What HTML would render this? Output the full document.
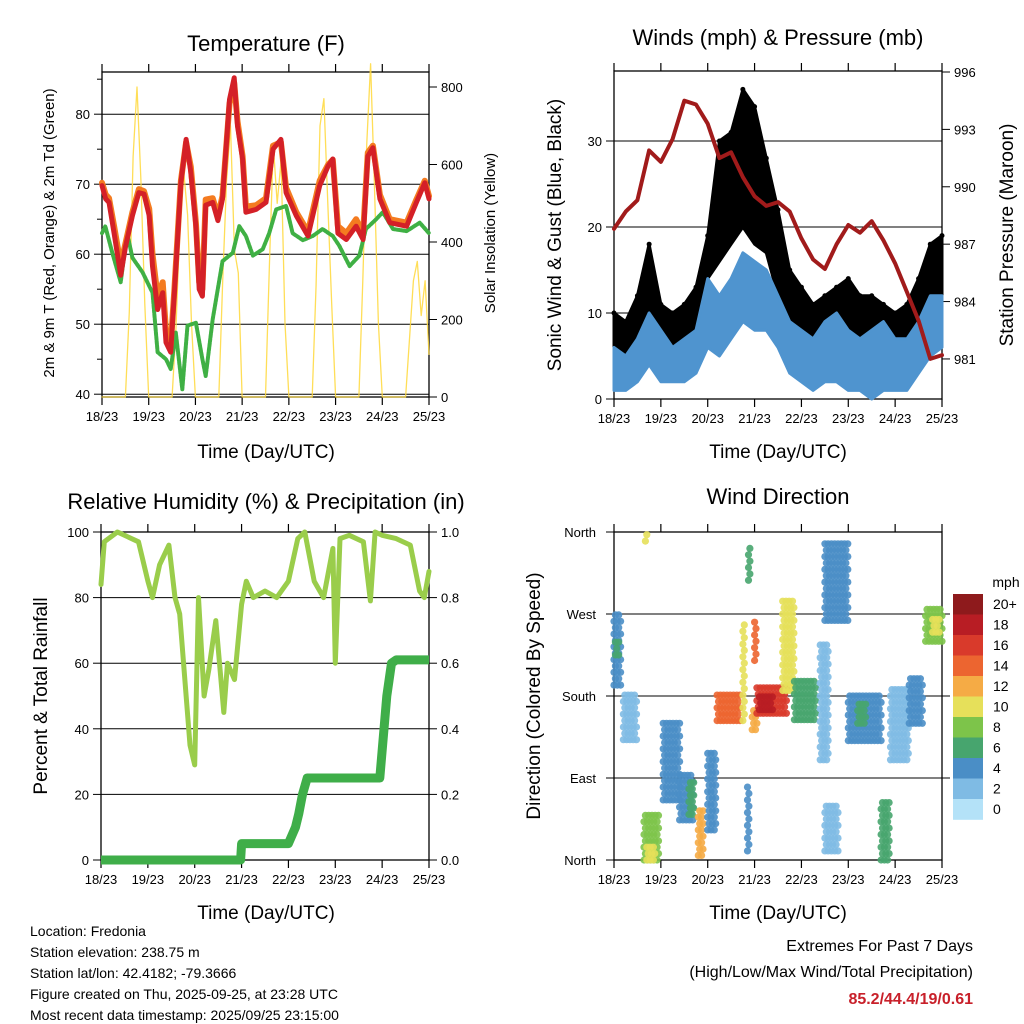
<!DOCTYPE html>
<html><head><meta charset="utf-8"><style>
html,body{margin:0;padding:0;background:#fff;}
svg{display:block;font-family:"Liberation Sans",sans-serif;}
</style></head><body>
<svg id="chart" width="1024" height="1024" viewBox="0 0 1024 1024" xmlns="http://www.w3.org/2000/svg">
<rect x="0" y="0" width="1024" height="1024" fill="#fff"/>
<g font-size="22" text-anchor="middle" fill="#000">
<text x="266" y="51">Temperature (F)</text>
<text x="778" y="45">Winds (mph) &amp; Pressure (mb)</text>
<text x="266" y="509">Relative Humidity (%) &amp; Precipitation (in)</text>
<text x="778" y="504">Wind Direction</text>
</g>
<g font-size="19" text-anchor="middle">
<text x="266" y="458">Time (Day/UTC)</text>
<text x="778" y="458">Time (Day/UTC)</text>
<text x="266" y="919">Time (Day/UTC)</text>
<text x="778" y="919">Time (Day/UTC)</text>
<text transform="translate(561,235) rotate(-90)">Sonic Wind &amp; Gust (Blue, Black)</text>
<text transform="translate(1013,235) rotate(-90)">Station Pressure (Maroon)</text>
<text transform="translate(47,696) rotate(-90)">Percent &amp; Total Rainfall</text>
<text transform="translate(540,696) rotate(-90)">Direction (Colored By Speed)</text>
</g>
<g font-size="15" text-anchor="middle">
<text transform="translate(54,233) rotate(-90)">2m &amp; 9m T (Red, Orange) &amp; 2m Td (Green)</text>
<text transform="translate(495,233) rotate(-90)">Solar Insolation (Yellow)</text>
</g>
<g font-size="14">
<text x="30" y="936">Location: Fredonia</text>
<text x="30" y="957">Station elevation: 238.75 m</text>
<text x="30" y="978">Station lat/lon: 42.4182; -79.3666</text>
<text x="30" y="999">Figure created on Thu, 2025-09-25, at 23:28 UTC</text>
<text x="30" y="1020">Most recent data timestamp: 2025/09/25 23:15:00</text>
</g>
<g font-size="16" text-anchor="end">
<text x="973" y="951">Extremes For Past 7 Days</text>
<text x="973" y="977">(High/Low/Max Wind/Total Precipitation)</text>
<text x="973" y="1004" fill="#c8202a" font-weight="bold">85.2/44.4/19/0.61</text>
</g>
</svg>
<script>
// ---------- data ----------
const dayLabels=['18/23','19/23','20/23','21/23','22/23','23/23','24/23','25/23'];
const tempTicks=[40,50,60,70,80];
const solarTicks=[0,200,400,600,800];
const windTicks=[0,10,20,30];
const pressTicks=[981,984,987,990,993,996];
const rhTicks=[0,20,40,60,80,100];
const rainTicks=['0.0','0.2','0.4','0.6','0.8','1.0'];
const dirTicks=['North','East','South','West','North'];
const speedLabels=['20+','18','16','14','12','10','8','6','4','2','0'];

const tempTime=[0,0.08,0.15,0.26,0.4,0.5,0.65,0.79,0.9,1.01,1.08,1.19,1.3,1.37,1.47,1.55,1.69,1.8,1.9,2.01,2.08,2.15,2.22,2.37,2.48,2.58,2.73,2.83,2.9,3.01,3.08,3.3,3.51,3.66,3.83,3.94,4.16,4.41,4.66,4.84,4.94,5.05,5.23,5.44,5.59,5.69,5.8,5.95,6.16,6.52,6.73,6.91,7.0];
const temp2m=[69.8,67.9,67.4,63,57,61,65.5,68.8,68.6,65.5,58.3,52.1,54.5,47.4,46,54.5,70.2,76.4,71.7,64,55,54,67,67.4,64.8,67.9,82.1,85.2,78.3,73.6,66,66.4,67.4,75,76.4,68.8,65.5,62.6,69.8,72.6,73.6,63,62.1,64,62.1,74,75.2,67.9,64.5,64,67.4,70.2,67.9];
const temp9m=[70.2,68.5,68,64,58.5,61.5,66,69.3,69,66.5,60,54,56,49,47,55,70.5,76,72.5,64.5,56,55,67.8,68,65.5,68.3,81.5,84.5,79,74,66.8,67,68,75.5,76,69.5,66,63.2,70.5,72.8,73.5,64,63,65,63,74.5,75.5,68.5,65,64.5,67.8,70.5,68.3];
const dewTime=[0,0.07,0.22,0.4,0.54,0.65,0.87,1.08,1.19,1.37,1.47,1.58,1.72,1.83,2.01,2.15,2.22,2.37,2.58,2.8,2.94,3.08,3.23,3.44,3.58,3.73,3.94,4.08,4.3,4.51,4.72,4.94,5.08,5.3,5.51,5.65,5.87,6.01,6.23,6.52,6.8,7.0];
const dewPoint=[63,64,60.2,56,63,59.5,57.4,54.5,46,45,43.6,48.8,40.7,49.8,50.2,45,42.6,50.7,59,60.2,64,62.6,59.8,60.7,63,66.4,66.9,63,62,62.6,63.6,62.6,61.2,58.3,59.8,63.6,65,66,63.6,63.3,64.5,63];
// 2-hourly solar insolation, index i = i/12 days after 18/23
const solar=[0,
 0,0,0,0,0,0,220,620,800,560,240,0,
 0,0,0,0,0,0,180,450,580,470,190,0,
 0,0,0,0,0,0,300,560,700,380,320,0,
 0,0,0,0,0,0,340,650,500,610,190,0,
 0,0,0,0,0,0,290,700,770,500,240,0,
 0,0,0,0,0,0,300,650,860,540,190,0,
 0,0,0,0,0,0,150,300,350,210,300,110];

const pressure=[987.8,988.7,989.3,991.9,991.3,992.5,994.5,994.3,993.3,991.5,991.8,990.5,989.5,989.0,989.2,988.7,987.3,986.2,985.7,987.0,988.0,987.6,988.2,987.2,986.0,984.5,983.0,981.0,981.2];
const windLo=[1,1,2,4,2,2,2,3,6,5,7,9,8,8,6,3,2,1,2,2,1,1,0,1,1,1,3,5,6];
const windHi=[6,5,7,10,8,6,7,8,14,12,14,17,16,15,12,9,8,7,9,10,8,7,8,9,7,7,9,12,12];
const gustLo=[3,3,4,8,5,4,4,5,14,16,18,20,18,17,12,7,5,4,4,5,3,3,2,3,3,3,6,9,10];
const gustHi=[10,9,12,18,11,10,11,13,19,30,31,36,34,28,22,15,13,11,12,13,14,12,12,11,10,11,14,18,19];

const rhTime=[0,0.07,0.35,0.8,1.0,1.1,1.25,1.45,1.58,1.68,1.9,2.0,2.08,2.2,2.3,2.45,2.62,2.7,2.85,3.0,3.1,3.25,3.5,3.75,4.0,4.2,4.35,4.55,4.75,4.95,5.0,5.1,5.3,5.6,5.75,5.85,6.0,6.3,6.6,6.8,6.9,7.0];
const rhValue=[84,97,100,97,85,80,90,96,80,75,35,29,80,50,58,73,45,60,55,78,85,80,82,80,85,98,100,85,80,95,60,98,99,97,79,100,99,98,96,82,80,88];
const rainTime=[0,2.98,3.0,4.0,4.15,4.22,4.3,4.4,5.95,6.1,6.2,6.3,7.0];
const rainValue=[0,0,0.05,0.05,0.10,0.14,0.20,0.25,0.25,0.50,0.60,0.61,0.61];

const streakT0=[0,0.03,0.2,0.64,0.7,1.05,1.4,1.6,1.8,2.0,2.2,2.75,2.85,3.0,2.95,3.05,3.1,3.6,3.85,4.5,4.4,4.5,5.0,5.2,5.7,5.9,6.3,6.65,6.8,2.87,0.67];
const streakT1=[0.15,0.1,0.5,0.98,0.9,1.4,1.7,1.7,1.9,2.2,2.7,2.8,2.9,3.05,3.05,3.7,3.4,3.85,4.3,5.0,4.6,4.8,5.7,5.4,5.9,6.3,6.6,7.0,6.95,2.9,0.72];
const streakLo=[192,225,132,0,0,66,44,50,5,33,153,153,10,219,143,161,165,186,154,263,110,10,131,150,0,110,150,240,250,307,350];
const streakHi=[269,245,187,50,20,154,99,90,55,121,186,263,85,263,170,194,185,285,197,351,240,60,186,175,65,190,200,280,270,345,360];
const streakSpd=[4,6,2,8,10,4,4,6,12,4,14,10,5,14,12,16,18,10,6,4,2,3,4,6,6,2,4,8,10,6,10];

// ---------- helpers ----------
const NS='http://www.w3.org/2000/svg';
const svg=document.getElementById('chart');
function mk(tag,attrs,parent){const e=document.createElementNS(NS,tag);for(const k in attrs)e.setAttribute(k,attrs[k]);(parent||svg).appendChild(e);return e;}
function label(x,y,s,size,anchor,parent){const t=mk('text',{x:x,y:y,'font-size':size,'text-anchor':anchor},parent);t.textContent=s;return t;}
const colors=['#b4e2f8','#7fbbe4','#4a8ec6','#47a56e','#7dc44a','#e6e05a','#f5ab45','#ec6530','#d93a2b','#b81d24','#8e1a1c'];
function spdColor(s){return colors[Math.min(10,Math.floor(s/2))];}

const P1={L:102,R:429,T:72,B:397};
const P2={L:614,R:942,T:71,B:399};
const P3={L:101,R:429,T:532,B:860};
const P4={L:614,R:942,T:532,B:860};
function xd(P,t){return P.L+t*(P.R-P.L)/7;}
const yTemp=v=>397-(v-39.6)*7;
const ySolar=s=>397-s*0.3875;
const yWind=v=>399-v*8.6;
const yPress=p=>72+(996-p)*19.13;
const yRh=v=>860-v*3.28;
const yRain=v=>860-v*328;
const yDir=d=>860-d*328/360;

function frame(P,name){
  const g=mk('g',{});
  
  
  const r=mk('rect',{x:P.L,y:P.T,width:P.R-P.L,height:P.B-P.T,fill:'none',stroke:'#000','stroke-width':1.3},g);
  
  
  for(let i=0;i<8;i++){
    const x=xd(P,i);
    mk('line',{x1:x,x2:x,y1:P.B,y2:P.B+8,stroke:'#000','stroke-width':1.2},g);
    mk('line',{x1:x,x2:x,y1:P.T,y2:P.T-8,stroke:'#000','stroke-width':1.2},g);
    const t=label(x,P.B+24,dayLabels[i],13,'middle',g);
    
    
  }
  return g;
}
function grid(P,y,g,ext){
  const l=mk('line',{x1:P.L-(ext||0),x2:P.R+(ext||0),y1:y,y2:y,stroke:'#000','stroke-width':1},g);
  
  
}
function poly(pts,attrs,name){
  const p=mk('polyline',Object.assign({points:pts.map(a=>a[0].toFixed(1)+','+a[1].toFixed(1)).join(' '),fill:'none','stroke-linejoin':'round','stroke-linecap':'round'},attrs));
  
  
  return p;
}

// ---------- panel 1: temperature ----------
const g1=frame(P1,'temperature-panel');
tempTicks.forEach(v=>{const y=yTemp(v);grid(P1,y,g1);mk('line',{x1:P1.L-8,x2:P1.L,y1:y,y2:y,stroke:'#000'},g1);
  const t=label(P1.L-12,y+5,String(v),13,'end',g1);});
[45,55,65,75,85].forEach(v=>{const y=yTemp(v);mk('line',{x1:P1.L-5,x2:P1.L,y1:y,y2:y,stroke:'#000'},g1);});
solarTicks.forEach(v=>{const y=ySolar(v);mk('line',{x1:P1.R,x2:P1.R+8,y1:y,y2:y,stroke:'#000'},g1);
  const t=label(P1.R+12,y+5,String(v),13,'start',g1);});
poly(solar.map((s,i)=>[xd(P1,i/12),ySolar(s)]),{stroke:'#ffd83a','stroke-width':1.3,'stroke-opacity':0.85},'solar-insolation-line');
poly(dewTime.map((t,i)=>[xd(P1,t),yTemp(dewPoint[i])]),{stroke:'#3fb044','stroke-width':4,'stroke-dasharray':'3 1.5'},'dewpoint-line');
poly(tempTime.map((t,i)=>[xd(P1,t),yTemp(temp9m[i])]),{stroke:'#f47b20','stroke-width':6},'temp-9m-line');
poly(tempTime.map((t,i)=>[xd(P1,t),yTemp(temp2m[i])]),{stroke:'#d42027','stroke-width':5},'temp-2m-line');

// ---------- panel 2: winds & pressure ----------
const g2=frame(P2,'winds-panel');
windTicks.forEach(v=>{const y=yWind(v);if(v>0)grid(P2,y,g2);mk('line',{x1:P2.L-8,x2:P2.L,y1:y,y2:y,stroke:'#000'},g2);
  const t=label(P2.L-12,y+5,String(v),13,'end',g2);});
pressTicks.forEach(v=>{const y=yPress(v);mk('line',{x1:P2.R,x2:P2.R+8,y1:y,y2:y,stroke:'#000'},g2);
  const t=label(P2.R+12,y+5,String(v),13,'start',g2);});
function band(lo,hi,fill,name){
  const pts=[];lo.forEach((v,i)=>pts.push([xd(P2,i/4),yWind(v)]));
  for(let i=hi.length-1;i>=0;i--)pts.push([xd(P2,i/4),yWind(hi[i])]);
  const p=mk('polygon',{points:pts.map(a=>a[0].toFixed(1)+','+a[1].toFixed(1)).join(' '),fill:fill,stroke:fill,'stroke-width':3,'stroke-linejoin':'round'});
  
  
}
band(gustLo,gustHi,'#000','gust-band');
gustHi.forEach((v,i)=>{const c=mk('circle',{cx:xd(P2,i/4),cy:yWind(v),r:2.5,fill:'#000'});
  
  });
band(windLo,windHi,'#4f94cf','wind-band');
poly(pressure.map((p,i)=>[xd(P2,i/4),yPress(p)]),{stroke:'#a11b1b','stroke-width':4},'pressure-line');

// ---------- panel 3: humidity & rain ----------
const g3=frame(P3,'humidity-panel');
rhTicks.forEach(v=>{const y=yRh(v);if(v>0&&v<100)grid(P3,y,g3);mk('line',{x1:P3.L-8,x2:P3.L,y1:y,y2:y,stroke:'#000'},g3);
  const t=label(P3.L-12,y+5,String(v),13,'end',g3);});
rainTicks.forEach((s,i)=>{const y=yRain(parseFloat(s));mk('line',{x1:P3.R,x2:P3.R+8,y1:y,y2:y,stroke:'#000'},g3);
  const t=label(P3.R+12,y+5,s,13,'start',g3);});
poly(rhTime.map((t,i)=>[xd(P3,t),yRh(rhValue[i])]),{stroke:'#9acd4b','stroke-width':5},'humidity-line');
poly(rainTime.map((t,i)=>[xd(P3,t),yRain(rainValue[i])]),{stroke:'#3fae49','stroke-width':9,'stroke-linecap':'butt'},'precipitation-line');

// ---------- panel 4: wind direction ----------
const g4=frame(P4,'direction-panel');
dirTicks.forEach((s,i)=>{const y=yDir(i*90);if(i>0&&i<4)grid(P4,y,g4,8);mk('line',{x1:P4.L-8,x2:P4.L,y1:y,y2:y,stroke:'#000'},g4);
  const t=label(P4.L-18,y+5,s,13,'end',g4);});
const dots=mk('g',{});


streakT0.forEach((t0,k)=>{
  const col=spdColor(streakSpd[k]);let row=0;
  for(let d=streakLo[k];d<=streakHi[k]+0.01;d+=7,row++){
    for(let t=t0+(row%2)*0.03;t<=streakT1[k]+0.001;t+=0.07){
      const c=mk('circle',{cx:xd(P4,t).toFixed(1),cy:yDir(d).toFixed(1),r:3.6,fill:col,'fill-opacity':0.9},dots);
      
      
    }
  }
});
// legend
const lg=mk('g',{});


const lt=label(1006,587,'mph',14,'middle',lg);

speedLabels.forEach((s,i)=>{
  const y=594+i*20.5;
  const r=mk('rect',{x:953,y:y,width:30,height:20.8,fill:colors[10-i]},lg);
  
  
  const t=label(993,y+15,s,14,'start',lg);
  
  
});
</script>
</body></html>
